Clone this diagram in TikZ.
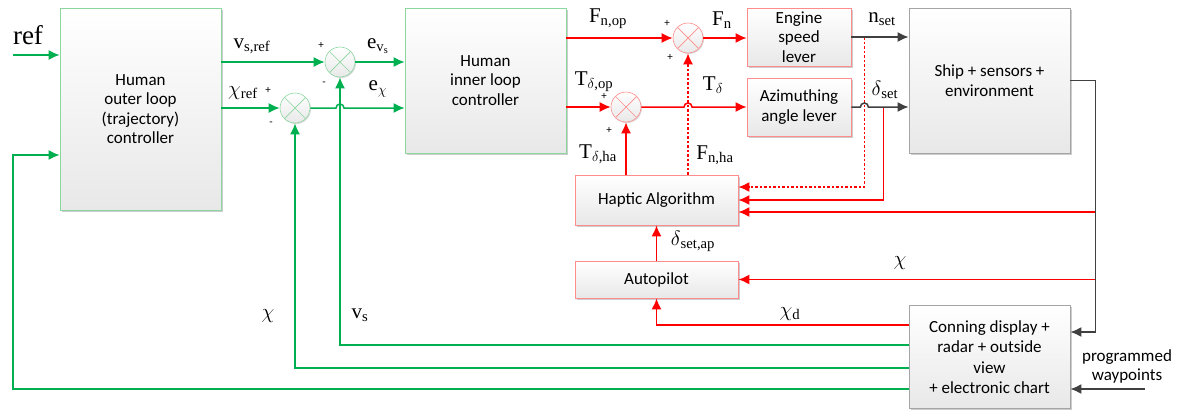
\documentclass[tikz,border=0pt]{standalone}
\usepackage{fontspec}
\setmainfont{Liberation Serif}
\newfontfamily\boxfont{Carlito}
\usetikzlibrary{positioning, calc, arrows.meta, shadows}
\tikzset{>={Latex[length=11pt,width=10pt]}}
\definecolor{sig_green}{RGB}{0,176,80}
\definecolor{sig_red}{RGB}{255,0,0}
\definecolor{sig_gray}{RGB}{64,64,64}
\definecolor{edge_green}{RGB}{140,215,160}
\definecolor{edge_red}{RGB}{255,140,140}
\definecolor{edge_gray}{RGB}{165,165,165}
\definecolor{fill_gray}{RGB}{232,232,232}

\begin{document}
\begin{tikzpicture}
    [
        x=1pt, y=-1pt,
        box/.style={rectangle, top color=white, bottom color=fill_gray, line width=0.8pt, align=center, inner sep=2pt,
            font=\boxfont\fontsize{17}{19.5}\selectfont,
            drop shadow={shadow xshift=1.5pt, shadow yshift=-1.5pt, opacity=0.2, fill=black}},
        green_box/.style={box, draw=edge_green},
        red_box/.style={box, draw=edge_red},
        gray_box/.style={box, draw=edge_gray},
        sum_node/.style={circle, minimum size=30pt, inner sep=0pt, draw=#1, line width=0.6pt, top color=white, bottom color=fill_gray,
            drop shadow={shadow xshift=1pt, shadow yshift=-1pt, opacity=0.15, fill=black},
            path picture={\draw[#1, line width=0.7pt] (path picture bounding box.center) +(45:15pt) -- +(225:15pt)
                (path picture bounding box.center) +(135:15pt) -- +(315:15pt);}},
        g_line/.style={->, draw=sig_green, line width=1.5pt},
        r_line/.style={->, draw=sig_red, line width=1.5pt},
        k_line/.style={->, draw=sig_gray, line width=1.5pt},
        r_dots/.style={r_line, dash pattern=on 2.5pt off 2pt},
        sig/.style={inner sep=0pt, font=\fontsize{21}{22}\selectfont},
        sign/.style={inner sep=0pt, font=\boxfont\fontsize{11}{12}\selectfont},
    ]
  \useasboundingbox (0,0) rectangle (1181,410);

  % blocks
  \node[green_box, minimum width=161pt, minimum height=202pt] (outer) at (140.5,109) {Human\\outer loop\\(trajectory)\\controller};
  \node[green_box, minimum width=161pt, minimum height=145pt] (inner) at (485.5,80.5) {Human\\inner loop\\controller};
  \node[red_box, minimum width=104pt, minimum height=58pt] (engine) at (799,37) {Engine\\speed\\lever};
  \node[red_box, minimum width=104pt, minimum height=58pt] (azim) at (799,107) {Azimuthing\\angle lever};
  \node[gray_box, minimum width=161pt, minimum height=145pt] (ship) at (989.5,80.5) {Ship + sensors +\\environment};
  \node[red_box, minimum width=163pt, minimum height=50pt] (hap) at (656.5,200) {Haptic Algorithm};
  \node[red_box, minimum width=163pt, minimum height=37pt] (auto) at (656.5,279.5) {Autopilot};
  \node[gray_box, minimum width=161pt, minimum height=103pt, font=\boxfont\fontsize{17}{20.5}\selectfont] (conn) at (989.5,357) {Conning display +\\radar + outside\\view\\+ electronic chart};

  % summing junctions
  \node[sum_node=edge_green] (sv) at (340,62) {};
  \node[sum_node=edge_green] (schi) at (295,108) {};
  \node[sum_node=edge_red] (sF) at (688,38) {};
  \node[sum_node=edge_red] (sT) at (626,107) {};

  \coordinate (refin) at (13,55);
  \coordinate (fbl) at (13,155);
  \coordinate (ntap) at ([xshift=13pt]engine.east);
  \coordinate (dtap) at ([xshift=32pt]azim.east);
  \coordinate (shipc) at ([xshift=25pt]ship.east);
  \coordinate (wp) at (1145,389);

  % green loop
  \draw[g_line] (refin) -- (refin -| outer.west);
  \draw[g_line] (sv -| outer.east) -- (sv.west);
  \draw[g_line] (schi -| outer.east) -- (schi.west);
  \draw[g_line] (sv.east) -- (sv -| inner.west);
  \draw[g_line] (schi.east) -- ($(schi -| sv)+(-4,0)$) arc[start angle=180, end angle=360, radius=4] -- (schi -| inner.west);
  \draw[g_line] ([yshift=12pt]conn.west) -| (sv.south);
  \draw[g_line] ([yshift=-11pt]conn.west) -| (schi.south);
  \draw[g_line] ([yshift=-32pt]conn.west) -| (fbl) -- (fbl -| outer.west);

  % red paths
  \draw[r_line] (sF -| inner.east) -- (sF.west);
  \draw[r_line] (sF.east) -- (sF -| engine.west);
  \draw[r_line] (sT -| inner.east) -- (sT.west);
  \draw[r_line] (sT.east) -- ($(sT -| sF)+(-4,0)$) arc[start angle=180, end angle=360, radius=4] -- (sT -| azim.west);
  \draw[r_line] (hap.north -| sT) -- (sT.south);
  \draw[r_dots] (hap.north -| sF) -- (sF.south);
  \draw[r_dots] (ntap) |- ([yshift=13pt]hap.east);
  \draw[r_line] (dtap) |- (hap.east);
  \draw[r_line] ([yshift=-12pt]hap.east -| shipc) -- ([yshift=-12pt]hap.east);
  \draw[r_line] (auto.east -| shipc) -- (auto.east);
  \draw[r_line] (auto.north) -- (auto.north |- hap.south);
  \draw[r_line] ([yshift=32pt]conn.west) -| (auto.south);

  % gray paths
  \draw[k_line] (engine.east) -- (engine.east -| ship.west);
  \draw[k_line] (azim.east) -- ($(azim.east -| ntap)+(-4,0)$) arc[start angle=180, end angle=360, radius=4] -- (azim.east -| ship.west);
  \draw[k_line] (ship.east) -- (shipc) |- ([yshift=25pt]conn.east);
  \draw[k_line] (wp) -- (wp -| conn.east);

  % signal labels
  \node[sig, font=\fontsize{27}{28}\selectfont] (l_ref) at (28,35) {ref};
  \node[sig] (l_vsref) at (252,46) {v\textsubscript{s,ref}};
  \node[sig] (l_chiref) at (243,93) {$\chi$\textsubscript{ref}};
  \node[sig] (l_evs) at (378,46) {e\textsubscript{v\textsubscript{s}}};
  \node[sig] (l_echi) at (378,89) {e\textsubscript{$\chi$}};
  \node[sig] (l_Fnop) at (608,19) {F\textsubscript{n,op}};
  \node[sig] (l_Fn) at (722,20) {F\textsubscript{n}};
  \node[sig] (l_Tdop) at (594,82) {T\textsubscript{$\delta$,op}};
  \node[sig] (l_Td) at (713,85) {T\textsubscript{$\delta$}};
  \node[sig] (l_Tdha) at (598,154) {T\textsubscript{$\delta$,ha}};
  \node[sig] (l_Fnha) at (715,155) {F\textsubscript{n,ha}};
  \node[sig] (l_nset) at (882,19) {n\textsubscript{set}};
  \node[sig] (l_dset) at (885,90) {$\delta$\textsubscript{set}};
  \node[sig] (l_dsetap) at (693,241) {$\delta$\textsubscript{set,ap}};
  \node[sig] (l_chir) at (900,263) {$\chi$};
  \node[sig] (l_chid) at (790,314) {$\chi$\textsubscript{d}};
  \node[sig] (l_chig) at (268,316) {$\chi$};
  \node[sig] (l_vs) at (360,315) {v\textsubscript{s}};
  \node[inner sep=0pt, align=center, font=\boxfont\fontsize{17}{19}\selectfont] (l_wp) at (1127,366) {programmed\\waypoints};

  % signs
  \node[sign] (p1) at (321,45) {+};
  \node[sign] (m1) at (324,84) {-};
  \node[sign] (p2) at (268,90) {+};
  \node[sign] (m2) at (271,124) {-};
  \node[sign] (p3) at (667,23) {+};
  \node[sign] (p4) at (670,57) {+};
  \node[sign] (p5) at (604,96) {+};
  \node[sign] (p6) at (609,130) {+};
\end{tikzpicture}
\end{document}
